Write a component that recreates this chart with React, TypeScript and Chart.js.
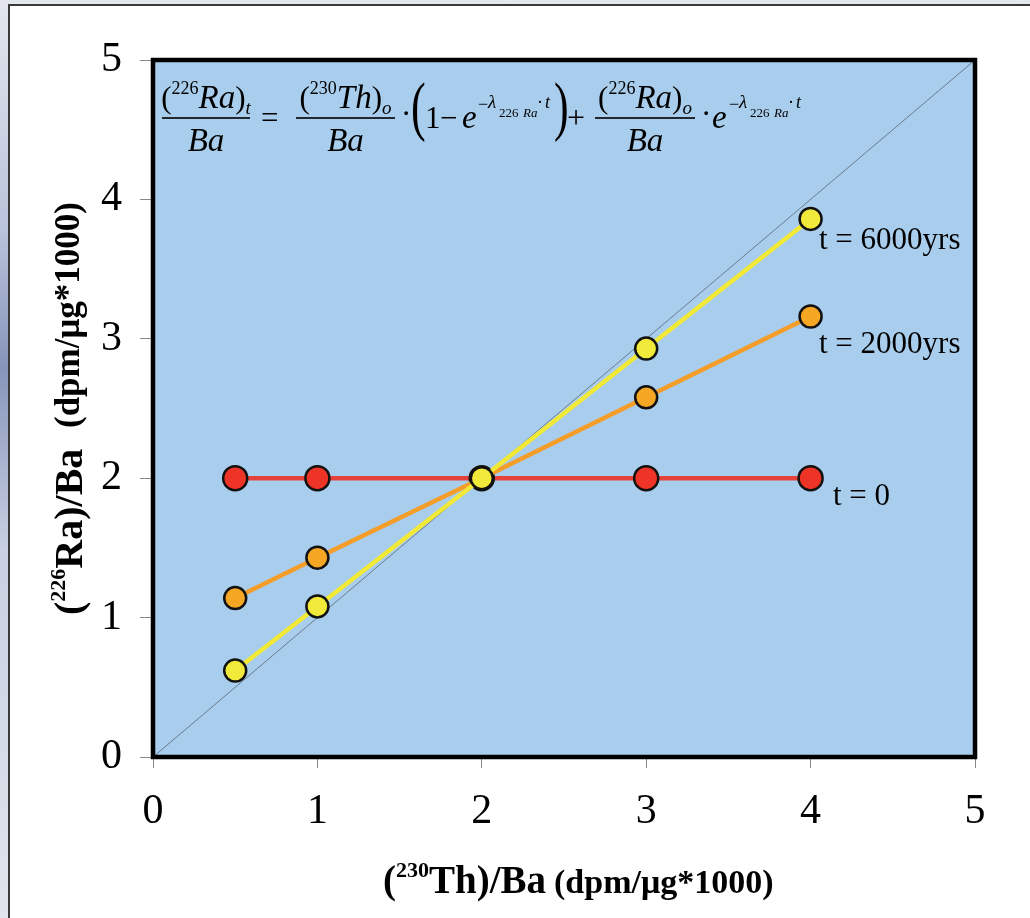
import React, { useEffect, useRef } from "react";
import { Chart, registerables } from "chart.js";

Chart.register(...registerables);

const xTicks = [0, 1, 2, 3, 4, 5];
const yTicks = [0, 1, 2, 3, 4, 5];
const thBa = [0.5, 1, 2, 3, 4];
const raT0 = [2, 2, 2, 2, 2];
const ra2000 = [1.14, 1.43, 2, 2.58, 3.16];
const ra6000 = [0.62, 1.08, 2, 2.93, 3.86];
const diagX = [0, 5];
const diagY = [0, 5];
const seriesLabels = ["t = 6000yrs", "t = 2000yrs", "t = 0"];

const SERIF = "'Liberation Serif', 'Times New Roman', serif";
const R = (s: number) => `${s}px ${SERIF}`;
const I = (s: number) => `italic ${s}px ${SERIF}`;
const B = (s: number) => `bold ${s}px ${SERIF}`;

type Run = { t: string; f: string; dy?: number; dx?: number };

function runW(ctx: CanvasRenderingContext2D, r: Run) {
  ctx.font = r.f;
  return ctx.measureText(r.t).width;
}

function runsWidth(ctx: CanvasRenderingContext2D, runs: Run[]) {
  let w = 0;
  for (const r of runs) w += runW(ctx, r) + (r.dx || 0);
  return w;
}

function drawRuns(ctx: CanvasRenderingContext2D, runs: Run[], x: number, y: number) {
  for (const r of runs) {
    ctx.font = r.f;
    x += r.dx || 0;
    ctx.fillText(r.t, x, y + (r.dy || 0));
    x += ctx.measureText(r.t).width;
  }
  return x;
}

function put(ctx: CanvasRenderingContext2D, t: string, f: string, x: number, y: number, sy = 1) {
  ctx.font = f;
  if (sy === 1) {
    ctx.fillText(t, x, y);
    return;
  }
  ctx.save();
  ctx.translate(x, y);
  ctx.scale(1, sy);
  ctx.fillText(t, 0, 0);
  ctx.restore();
}

function drawFrac(ctx: CanvasRenderingContext2D, x: number, barW: number, barY: number, num: Run[], den: Run[]) {
  const nw = runsWidth(ctx, num);
  const dw = runsWidth(ctx, den);
  drawRuns(ctx, num, x + (barW - nw) / 2, barY - 10);
  drawRuns(ctx, den, x + (barW - dw) / 2, barY + 33);
  ctx.fillRect(x, barY - 0.8, barW, 1.6);
}

function drawExp(ctx: CanvasRenderingContext2D, x: number, base: number) {
  const y = base - 20;
  put(ctx, "−", R(18), x, y + 2);
  put(ctx, "λ", I(19), x + 10, y);
  put(ctx, "226", R(13), x + 21, base - 11);
  put(ctx, "Ra", I(13), x + 45, base - 11);
  put(ctx, "·", R(18), x + 59, y);
  put(ctx, "t", I(18), x + 67, y);
}

function drawEquation(ctx: CanvasRenderingContext2D) {
  ctx.save();
  ctx.fillStyle = "#000";
  ctx.textBaseline = "alphabetic";
  ctx.textAlign = "left";
  const barY = 118;
  const base = 128;
  const numRuns = (iso: string, el: string, sub: string): Run[] => [
    { t: "(", f: R(31) },
    { t: iso, f: R(18), dy: -14 },
    { t: el, f: I(33) },
    { t: ")", f: R(31) },
    { t: sub, f: I(19), dy: 6 },
  ];
  const den: Run[] = [{ t: "Ba", f: I(33) }];
  drawFrac(ctx, 162, 88, barY, numRuns("226", "Ra", "t"), den);
  put(ctx, "=", R(31), 261, base);
  drawFrac(ctx, 296, 99, barY, numRuns("230", "Th", "o"), den);
  put(ctx, "·", R(31), 401, base - 4);
  put(ctx, "(", R(44), 411, base, 1.48);
  put(ctx, "1", R(31), 425, base);
  put(ctx, "−", R(31), 440, base);
  put(ctx, "e", I(33), 462, base);
  drawExp(ctx, 478, base);
  put(ctx, ")", R(44), 554, base, 1.48);
  put(ctx, "+", R(32), 567, base);
  drawFrac(ctx, 595, 100, barY, numRuns("226", "Ra", "o"), den);
  put(ctx, "·", R(31), 701, base - 4);
  put(ctx, "e", I(33), 712, base);
  drawExp(ctx, 729, base);
  ctx.restore();
}

function drawTitles(ctx: CanvasRenderingContext2D) {
  ctx.save();
  ctx.fillStyle = "#000";
  ctx.textBaseline = "alphabetic";
  ctx.textAlign = "left";

  // x-axis title
  const xMain: Run[] = [
    { t: "(", f: B(39) },
    { t: "230", f: B(22), dy: -16 },
    { t: "Th)/Ba", f: B(39) },
  ];
  const xEnd = drawRuns(ctx, xMain, 383, 893);
  drawRuns(ctx, [{ t: "(dpm/μg*1000)", f: B(34) }], Math.max(xEnd + 8, 553), 893);

  // y-axis title (rotated)
  ctx.translate(82, 615);
  ctx.rotate(-Math.PI / 2);
  const yMain: Run[] = [
    { t: "(", f: B(40) },
    { t: "226", f: B(22), dy: -17 },
    { t: "Ra)/Ba", f: B(40) },
  ];
  const yEnd = drawRuns(ctx, yMain, 0, 0);
  drawRuns(ctx, [{ t: "(dpm/μg*1000)", f: B(35), dy: -3 }], Math.max(yEnd + 8, 187), 0);
  ctx.restore();

  ctx.save();
  ctx.fillStyle = "#000";
  ctx.font = R(31);
  ctx.fillText(seriesLabels[0], 819, 249);
  ctx.fillText(seriesLabels[1], 819, 353);
  ctx.fillText(seriesLabels[2], 833, 505);
  ctx.restore();
}

const decor = {
  id: "decor",
  beforeDatasetsDraw(chart: any) {
    const { ctx, chartArea: a } = chart;
    ctx.save();
    ctx.fillStyle = "#a9cdec";
    ctx.fillRect(a.left, a.top, a.right - a.left, a.bottom - a.top);
    ctx.restore();
  },
  afterDraw(chart: any) {
    const { ctx, chartArea: a } = chart;
    ctx.save();
    ctx.strokeStyle = "#000";
    ctx.lineWidth = 4.5;
    ctx.strokeRect(a.left, a.top, a.right - a.left, a.bottom - a.top);
    ctx.restore();
    drawEquation(ctx);
    drawTitles(ctx);
  },
};

function pts(xs: number[], ys: number[]) {
  return xs.map((x, i) => ({ x, y: ys[i] }));
}

function series(label: string, ys: number[], line: string, fill: string, r: number) {
  return {
    label,
    data: pts(thBa, ys),
    borderColor: line,
    borderWidth: 4.5,
    pointRadius: r,
    pointBackgroundColor: fill,
    pointBorderColor: "#111",
    pointBorderWidth: 2.5,
    tension: 0,
  };
}

export default function App() {
  const ref = useRef<HTMLCanvasElement | null>(null);
  useEffect(() => {
    if (!ref.current) return;
    const chart = new Chart(ref.current, {
      type: "line",
      data: {
        datasets: [
          series(seriesLabels[0], ra6000, "#f1e935", "#f2ea3a", 11),
          series(seriesLabels[1], ra2000, "#f49d28", "#f5a623", 11),
          series(seriesLabels[2], raT0, "#e5423c", "#ee3427", 12),
          {
            label: "1:1",
            data: pts(diagX, diagY),
            borderColor: "#6b7b8c",
            borderWidth: 1,
            pointRadius: 0,
          } as any,
        ],
      },
      options: {
        responsive: false,
        animation: false,
        events: [],
        layout: { padding: { top: 60, right: 55, left: 0, bottom: 0 } },
        plugins: { legend: { display: false }, tooltip: { enabled: false } },
        scales: {
          x: {
            type: "linear",
            min: 0,
            max: 5,
            afterFit: (s: any) => { s.height = 161; },
            afterBuildTicks: (s: any) => { s.ticks = xTicks.map((v) => ({ value: v })); },
            border: { display: false },
            grid: { drawOnChartArea: false, tickLength: 11, color: "#888", lineWidth: 1 },
            ticks: { color: "#000", font: { family: SERIF, size: 42 }, padding: 19 },
          },
          y: {
            type: "linear",
            min: 0,
            max: 5,
            afterFit: (s: any) => { s.width = 153; },
            afterBuildTicks: (s: any) => { s.ticks = yTicks.map((v) => ({ value: v })); },
            border: { display: false },
            grid: { drawOnChartArea: false, tickLength: 13, color: "#888", lineWidth: 1 },
            ticks: { color: "#000", font: { family: SERIF, size: 42 }, padding: 18 },
          },
        },
      },
      plugins: [decor],
    });
    return () => chart.destroy();
  }, []);

  return (
    <div style={{ position: "fixed", left: 0, top: 0, width: 1030, height: 918, overflow: "hidden", background: "linear-gradient(180deg, #e4e7ee 0%, #b9c3da 25%, #8795bb 40%, #c9d0e2 60%, #e0e4ec 100%)" }}>
      <div style={{ position: "absolute", left: 8, top: 4, width: 1040, height: 930, background: "#fff", borderLeft: "2px solid #3a3a3a", borderTop: "2px solid #3a3a3a" }} />
      <canvas ref={ref} width={1030} height={918} style={{ position: "absolute", left: 0, top: 0, width: 1030, height: 918 }} />
    </div>
  );
}
